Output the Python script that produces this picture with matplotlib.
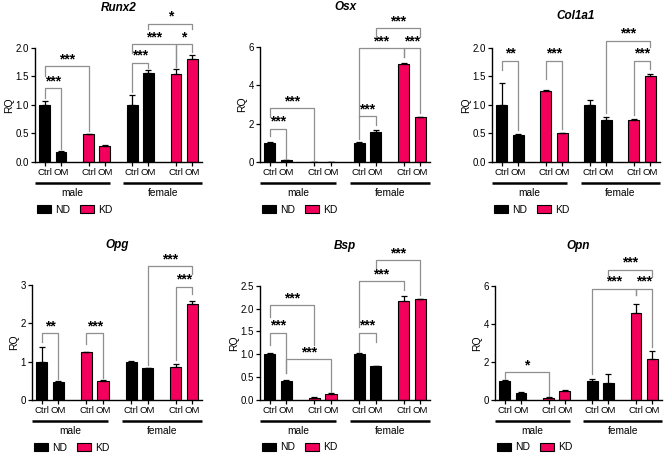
import numpy as np
import matplotlib.pyplot as plt
from matplotlib.patches import Patch
from matplotlib.transforms import offset_copy

plt.rcParams['font.family'] = ['Liberation Sans', 'DejaVu Sans']

W, H = 669, 454
PINK = "#F2005C"
GRAY = "#8f8f8f"

TICK_LABELS = ["Ctrl", "OM", "Ctrl", "OM", "Ctrl", "OM", "Ctrl", "OM"]
SEXES = ["male", "female"]
CONDITIONS = ["ND", "KD"]
# bar order: male ND Ctrl/OM, male KD Ctrl/OM, female ND Ctrl/OM, female KD Ctrl/OM
BAR_CONDITION = ["ND", "ND", "KD", "KD", "ND", "ND", "KD", "KD"]

runx2_mean = [1.00, 0.17, 0.48, 0.28, 1.00, 1.55, 1.53, 1.80]
runx2_err = [0.07, 0.02, 0.01, 0.01, 0.17, 0.06, 0.09, 0.07]
osx_mean = [1.00, 0.07, 0.0, 0.0, 1.00, 1.55, 5.15, 2.32]
osx_err = [0.03, 0.01, 0.0, 0.0, 0.03, 0.12, 0.05, 0.05]
col1a1_mean = [1.00, 0.47, 1.24, 0.50, 1.00, 0.73, 0.73, 1.51]
col1a1_err = [0.38, 0.01, 0.01, 0.01, 0.09, 0.06, 0.02, 0.02]
opg_mean = [1.00, 0.47, 1.24, 0.50, 1.00, 0.82, 0.87, 2.52]
opg_err = [0.38, 0.01, 0.01, 0.01, 0.01, 0.02, 0.06, 0.08]
bsp_mean = [1.00, 0.42, 0.04, 0.12, 1.00, 0.73, 2.18, 2.21]
bsp_err = [0.03, 0.01, 0.01, 0.02, 0.03, 0.01, 0.10, 0.01]
opn_mean = [1.00, 0.37, 0.10, 0.47, 1.00, 0.90, 4.58, 2.17]
opn_err = [0.03, 0.03, 0.02, 0.03, 0.10, 0.45, 0.45, 0.40]

# significance brackets: (bar a, bar b, top, left leg end, right leg end, label)
runx2_sig = [(0, 1, 1.29, 1.12, 0.22, "***"), (0, 2, 1.68, 1.50, 0.53, "***"),
             (4, 5, 1.74, 1.22, 1.65, "***"), (4, 6, 2.06, 1.90, 1.66, "***"),
             (6, 7, 2.06, 1.66, 1.93, "*"), (5, 7, 2.42, 2.32, 2.32, "*")]
osx_sig = [(0, 1, 1.72, 1.35, 0.12, "***"), (0, 2, 2.80, 2.36, 0.10, "***"),
           (4, 5, 2.40, 1.17, 1.92, "***"), (4, 6, 5.95, 2.36, 5.50, "***"),
           (6, 7, 5.95, 5.50, 2.55, "***"), (5, 7, 7.00, 6.56, 6.56, "***")]
col1a1_sig = [(0, 1, 1.77, 1.60, 0.55, "**"), (2, 3, 1.77, 1.45, 0.57, "***"),
              (5, 7, 2.12, 0.85, 2.02, "***"), (6, 7, 1.77, 0.82, 1.62, "***")]
opg_sig = [(0, 1, 1.75, 1.51, 0.55, "**"), (2, 3, 1.75, 1.45, 0.58, "***"),
           (5, 7, 3.50, 0.90, 3.30, "***"), (6, 7, 2.96, 1.03, 2.78, "***")]
bsp_sig = [(0, 1, 1.47, 1.20, 0.58, "***"), (0, 2, 2.08, 1.82, 1.20, "***"),
           (1, 3, 0.89, 0.58, 0.18, "***"), (4, 5, 1.47, 1.05, 1.27, "***"),
           (4, 6, 2.61, 1.60, 2.41, "***"), (5, 7, 3.07, 2.89, 2.30, "***")]
opn_sig = [(0, 2, 1.46, 1.10, 0.22, "*"), (4, 6, 5.86, 1.37, 5.50, "***"),
           (6, 7, 5.86, 5.50, 2.78, "***"), (5, 7, 6.86, 6.47, 6.47, "***")]

x = np.array([0, 1, 2.7, 3.7, 5.4, 6.4, 8.1, 9.1])

# (gene, mean, err, brackets, ticks, tick format, axes px box: left, right, top, bottom)
panels = [
    ("Runx2", runx2_mean, runx2_err, runx2_sig, [0, 0.5, 1.0, 1.5, 2.0], "%.1f", (35, 202, 47.7, 161.7)),
    ("Osx", osx_mean, osx_err, osx_sig, [0, 2, 4, 6], "%d", (260, 430, 47.3, 161.7)),
    ("Col1a1", col1a1_mean, col1a1_err, col1a1_sig, [0, 0.5, 1.0, 1.5, 2.0], "%.1f", (492, 660, 47.7, 161.7)),
    ("Opg", opg_mean, opg_err, opg_sig, [0, 1, 2, 3], "%d", (32, 202, 285.3, 399.7)),
    ("Bsp", bsp_mean, bsp_err, bsp_sig, [0, 0.5, 1.0, 1.5, 2.0, 2.5], "%.1f", (260, 430, 286, 399.7)),
    ("Opn", opn_mean, opn_err, opn_sig, [0, 2, 4, 6], "%d", (495, 662, 286, 399.7)),
]
title_gap = {"Col1a1": 32}

fig = plt.figure(figsize=(W / 100, H / 100), dpi=100)

for gene, mean, err, sig, yticks, fmt, (l, r, t, b) in panels:
    ax = fig.add_axes([l / W, 1 - b / H, (r - l) / W, (b - t) / H])
    colors = ["black" if c == "ND" else PINK for c in BAR_CONDITION]
    ax.bar(x, mean, width=0.67, color=colors, edgecolor="black", linewidth=0.8, zorder=2)
    ax.errorbar(x, mean, yerr=[np.zeros(len(err)), err], fmt="none", ecolor="black",
                elinewidth=0.9, capsize=2.5, capthick=0.9, zorder=3)

    ax.set_xlim(-0.6, 9.7)
    ax.set_ylim(0, yticks[-1])
    ax.set_yticks(yticks)
    ax.set_yticklabels([fmt % v for v in yticks])
    ax.set_xticks(x)
    ax.set_xticklabels(TICK_LABELS)
    ax.tick_params(axis="both", length=3, width=0.9, pad=1.5)
    ax.tick_params(axis="y", labelsize=7)
    ax.tick_params(axis="x", labelsize=6.8)
    for s in ["top", "right"]:
        ax.spines[s].set_visible(False)
    for s in ["left", "bottom"]:
        ax.spines[s].set_linewidth(1.0)
    ax.set_ylabel("RQ", fontsize=7.5, labelpad=1)

    ax.text(0.5, 1, gene, transform=offset_copy(ax.transAxes, fig=fig,
            y=title_gap.get(gene, 40) * 0.72, units="points"),
            ha="center", va="center", fontsize=8.5, fontweight="bold", fontstyle="italic")

    # brackets
    for i, j, top, le, re, label in sig:
        ax.plot([x[i], x[i], x[j], x[j]], [le, top, top, re], color=GRAY,
                linewidth=0.9, clip_on=False, zorder=4)
        ax.annotate(label, xy=((x[i] + x[j]) / 2, top), xytext=(0, 5.0),
                    textcoords="offset points", ha="center", va="center",
                    fontsize=10, fontweight="bold", annotation_clip=False)

    # sex group lines
    xt = ax.get_xaxis_transform()
    line_tr = offset_copy(xt, fig=fig, y=-21 * 0.72, units="points")
    text_tr = offset_copy(xt, fig=fig, y=-31.5 * 0.72, units="points")
    for (x0, x1), sex in zip([(-0.6, 4.0), (4.85, 9.7)], SEXES):
        ax.plot([x0, x1], [0, 0], color="black", linewidth=1.8, transform=line_tr,
                clip_on=False, solid_capstyle="butt")
        ax.text((x0 + x1) / 2, 0, sex, transform=text_tr, ha="center", va="center", fontsize=7.3)

    handles = [Patch(facecolor="black" if c == "ND" else PINK, edgecolor="black",
                     linewidth=0.8, label=c) for c in CONDITIONS]
    ax.legend(handles=handles, loc="center left", bbox_to_anchor=(0.01, -0.42), ncol=2,
              frameon=False, fontsize=7.5, handlelength=1.4, handleheight=0.8,
              handletextpad=0.4, columnspacing=0.9, borderpad=0, borderaxespad=0)

fig.savefig("out.png", dpi=100)
